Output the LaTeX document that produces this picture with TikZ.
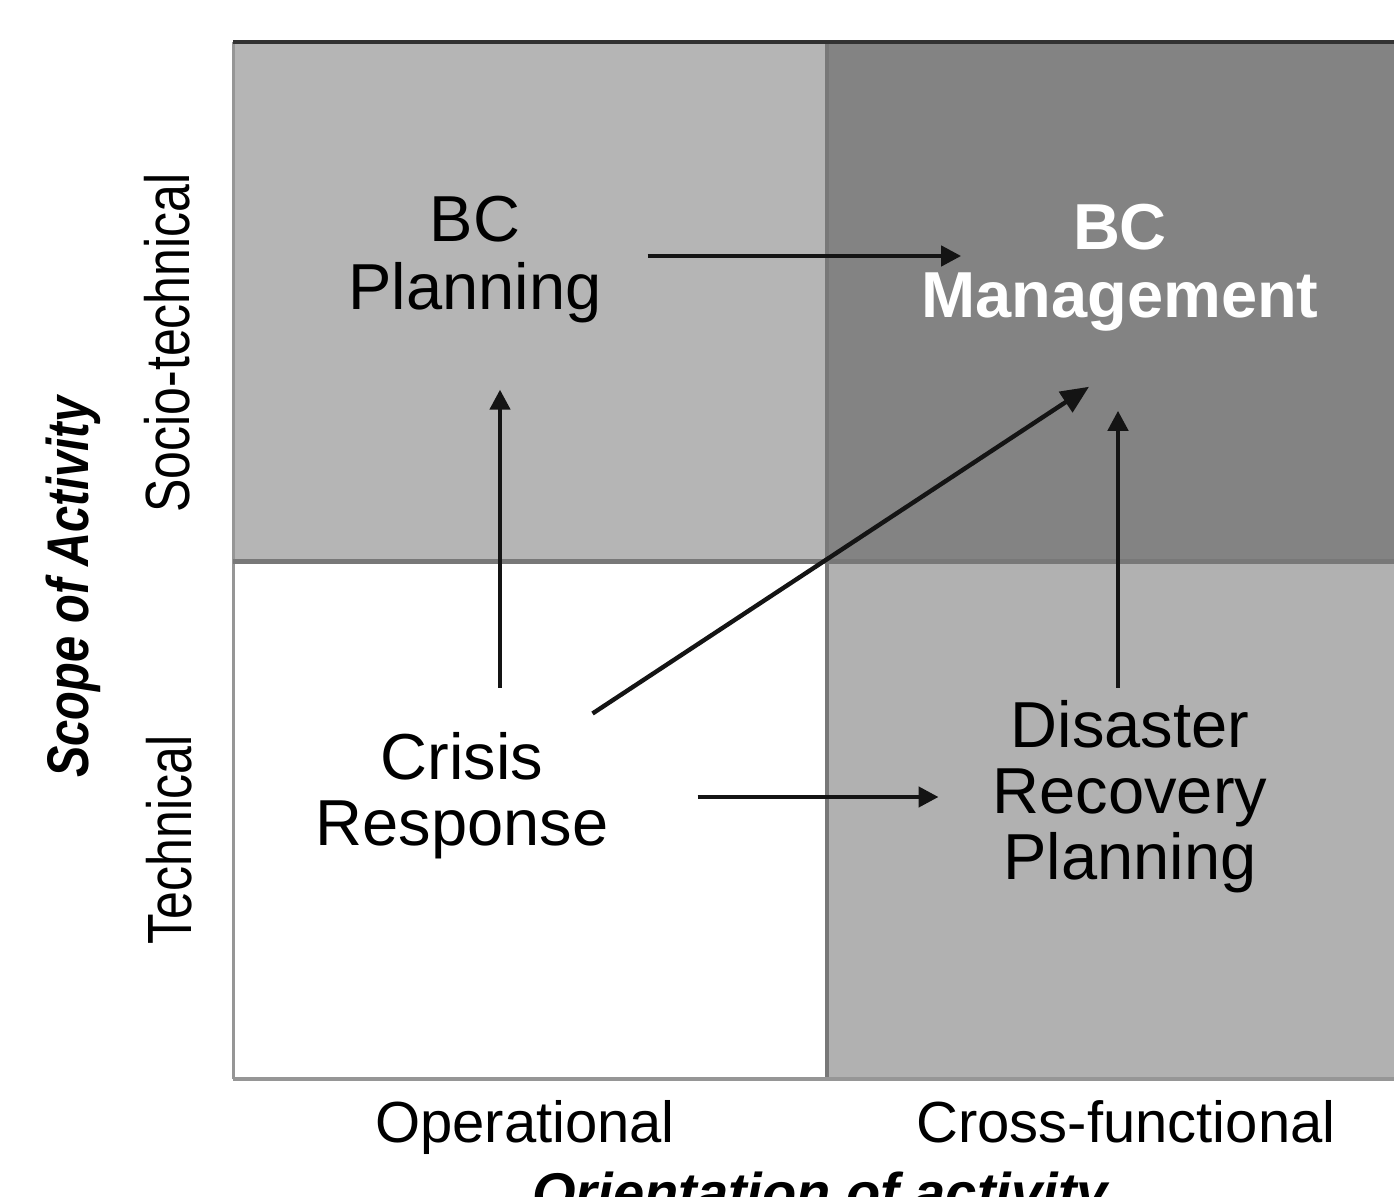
\documentclass[tikz,border=0pt]{standalone}
\usepackage{graphicx}
\usepackage{fontspec}
\setmainfont{Liberation Sans}
\usetikzlibrary{arrows.meta,calc}

\definecolor{quadLight}{RGB}{181,181,181}
\definecolor{quadDark}{RGB}{131,131,131}
\definecolor{quadLow}{RGB}{177,177,177}
\definecolor{edgeDark}{RGB}{50,50,50}
\definecolor{edgeMid}{RGB}{120,120,120}
\definecolor{edgeLight}{RGB}{150,150,150}
\definecolor{inkBlack}{RGB}{20,20,20}

\tikzset{every picture/.style={line width=2.2pt}}
\tikzset{
  lbl/.style={align=center, inner sep=0pt, font=\fontsize{32.5}{34}\selectfont},
  lbllow/.style={align=center, inner sep=0pt, font=\fontsize{32.5}{33}\selectfont},
  axis/.style={inner sep=0pt, anchor=base, font=\fontsize{29}{30}\selectfont},
  axisside/.style={inner sep=0pt, anchor=base, rotate=90, font=\fontsize{25}{26}\selectfont},
  axistitle/.style={inner sep=0pt, anchor=base, font=\fontsize{28}{29}\selectfont\bfseries\itshape},
  conn/.style={draw=inkBlack, line width=2.2pt, -{Triangle[length=10pt,width=10pt]}},
  connbig/.style={conn, -{Triangle[length=14pt,width=12pt]}}
}

\begin{document}
\begin{tikzpicture}[x=0.5pt,y=0.5pt,yscale=-1,xscale=1]
\useasboundingbox (0,0) rectangle (1394,1197);

% Quadrants
\fill[quadLight] (233,42) rectangle (827,562);
\fill[quadDark] (827,42) rectangle (1394,562);
\fill[quadLow] (827,562) rectangle (1394,1079);
% Grid lines
\draw[edgeLight, line width=1.5pt] (233,42) -- (233,1079);
\draw[edgeMid, line width=2.5pt] (233,562) -- (1394,562);
\draw[edgeMid, line width=2pt] (827,42) -- (827,1079);
\draw[edgeLight, line width=2pt] (233,1079) -- (1394,1079);
\draw[edgeDark, line width=2pt] (233,42) -- (1394,42);

% Text Node
\draw (475,260) node (plan) [lbl] {BC\\Planning};
% Text Node
\draw (1120,268) node (mgmt) [lbl, text=white, font=\fontsize{32.5}{34}\selectfont\bfseries] {BC\\Management};
% Text Node
\draw (462,796) node (crisis) [lbllow] {Crisis\\Response};
% Text Node
\draw (1130,797) node (drp) [lbllow] {Disaster\\Recovery\\Planning};

% Text Node
\draw (189,343) node (socio) [axisside] {\scalebox{1}[1.25]{Socio-technical}};
% Text Node
\draw (191,840) node (tech) [axisside] {\scalebox{1}[1.25]{Technical}};
% Text Node
\draw (89,587) node (scope) [axisside, font=\fontsize{23.5}{24}\selectfont\bfseries\itshape] {\scalebox{1}[1.25]{Scope of Activity}};
% Text Node
\draw (525,1143) node (oper) [axis] {Operational};
% Text Node
\draw (1126,1143) node (cross) [axis] {Cross-functional};
% Text Node
\draw (820,1212) node (orient) [axistitle] {Orientation of activity};

% Connection
\draw[conn] ($(plan.east)+(44,-4)$) -- ($(mgmt.west)+(42,-12)$);
% Connection
\draw[conn] ($(crisis.north)+(38,-43)$) -- ($(plan.south)+(25,64)$);
% Connection
\draw[connbig] ($(crisis.north east)+(-18,-17)$) -- ($(mgmt.south)+(-31,53)$);
% Connection
\draw[conn] ($(crisis.east)+(87,1)$) -- ($(drp.west)+(-52,0)$);
% Connection
\draw[conn] ($(drp.north)+(-12,-11)$) -- ($(mgmt.south)+(-2,77)$);

\end{tikzpicture}
\end{document}
